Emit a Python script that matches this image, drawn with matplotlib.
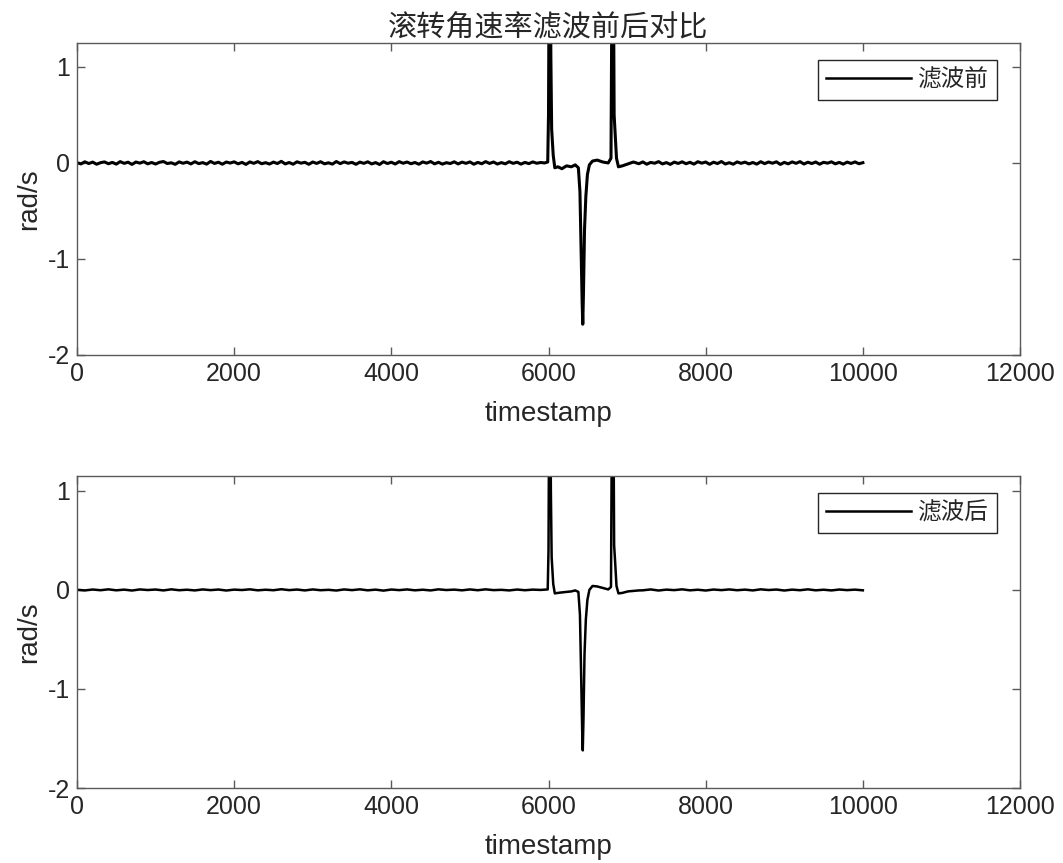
import numpy as np
import matplotlib
matplotlib.use('Agg')
import matplotlib.pyplot as plt

plt.rcParams['font.family'] = ['Liberation Sans', 'Noto Sans CJK SC']
plt.rcParams['axes.unicode_minus'] = False

# 原始数据：基线段（带噪声）
raw_t_pre = np.arange(0, 6000, 50)
raw_y_pre = [0.004, -0.010, 0.012, -0.006, 0.009, -0.013, 0.003, 0.011, -0.008, 0.006,
             -0.012, 0.014, -0.004, 0.008, -0.015, 0.010, -0.002, 0.013, -0.009, 0.005,
             -0.011, 0.007, 0.015, -0.006, 0.002, -0.014, 0.011, -0.003, 0.009, -0.010,
             0.013, -0.007, 0.004, -0.012, 0.016, -0.005, 0.008, -0.013, 0.010, -0.001,
             0.012, -0.009, 0.006, -0.015, 0.011, -0.004, 0.014, -0.008, 0.003, -0.011,
             0.009, -0.006, 0.017, -0.010, 0.005, -0.013, 0.012, -0.002, 0.007, -0.014,
             0.010, -0.005, 0.013, -0.009, 0.002, -0.012, 0.015, -0.007, 0.011, -0.003,
             0.006, -0.014, 0.009, -0.004, 0.012, -0.010, 0.004, -0.016, 0.013, -0.006,
             0.008, -0.011, 0.014, -0.003, 0.010, -0.008, 0.005, -0.013, 0.011, -0.002,
             0.015, -0.009, 0.007, -0.012, 0.003, -0.006, 0.012, -0.010, 0.009, -0.004,
             0.011, -0.013, 0.006, -0.008, 0.014, -0.005, 0.010, -0.011, 0.004, -0.009,
             0.013, -0.004, 0.008, -0.012, 0.006, -0.007, 0.011, -0.003, 0.005, 0.000]
raw_t_evt = [5990, 6000, 6010, 6020, 6030, 6040, 6060, 6080, 6120, 6170, 6230, 6290,
             6340, 6380, 6400, 6415, 6428, 6436, 6445, 6458, 6475, 6495, 6520, 6560,
             6620, 6690, 6760, 6795, 6805, 6815, 6825, 6835, 6848, 6865, 6890, 6940, 7010, 7080]
raw_y_evt = [0.01, 0.5, 2.4, 2.6, 1.1, 0.35, 0.08, -0.05, -0.04, -0.06, -0.03, -0.04,
             -0.02, -0.05, -0.3, -0.9, -1.45, -1.68, -1.35, -0.7, -0.35, -0.12, -0.02, 0.02,
             0.03, 0.01, 0.00, 0.05, 1.6, 2.6, 2.2, 0.5, 0.3, 0.05, -0.04, -0.03, -0.01, 0.01]
raw_t_post = np.arange(7150, 10001, 50)
raw_y_post = [-0.008, 0.011, -0.013, 0.006, -0.003, 0.014, -0.010, 0.004, -0.015, 0.009,
              -0.005, 0.012, -0.008, 0.007, -0.012, 0.013, -0.002, 0.010, -0.014, 0.008,
              -0.006, 0.015, -0.011, 0.003, -0.013, 0.011, -0.004, 0.009, -0.010, 0.005,
              -0.012, 0.013, -0.007, 0.010, -0.003, 0.012, -0.015, 0.006, -0.009, 0.011,
              -0.004, 0.014, -0.011, 0.008, -0.006, 0.010, -0.013, 0.007, -0.002, 0.012,
              -0.009, 0.006, -0.012, 0.009, -0.005, 0.011, -0.008, 0.003]

# 滤波后数据
flt_t_pre = np.arange(0, 6000, 100)
flt_y_pre = [0.002, -0.005, 0.004, -0.003, 0.006, -0.004, 0.003, -0.006, 0.005, -0.001,
             0.004, -0.005, 0.006, -0.003, 0.002, -0.005, 0.005, -0.002, 0.004, -0.006,
             0.003, -0.001, 0.006, -0.004, 0.002, -0.003, 0.007, -0.002, 0.004, -0.005,
             0.005, -0.003, 0.001, -0.006, 0.005, -0.002, 0.006, -0.004, 0.003, -0.007,
             0.004, -0.002, 0.005, -0.004, 0.002, -0.005, 0.006, -0.001, 0.003, -0.004,
             0.005, -0.003, 0.006, -0.002, 0.001, -0.005, 0.004, -0.003, 0.003, 0.000]
flt_t_evt = [5990, 6000, 6010, 6020, 6030, 6040, 6060, 6080, 6120, 6170, 6230, 6290,
             6340, 6380, 6400, 6415, 6428, 6436, 6445, 6458, 6475, 6495, 6520, 6560,
             6620, 6690, 6760, 6795, 6805, 6815, 6825, 6835, 6848, 6865, 6890, 6940, 7010, 7150]
flt_y_evt = [0.005, 0.4, 2.2, 2.4, 1.0, 0.33, 0.06, -0.035, -0.03, -0.025, -0.02, -0.015,
             -0.005, -0.02, -0.25, -0.85, -1.4, -1.62, -1.3, -0.65, -0.3, -0.1, 0.0, 0.04,
             0.035, 0.02, 0.005, 0.03, 1.5, 2.4, 2.0, 0.45, 0.28, 0.04, -0.035, -0.03, -0.015, -0.005]
flt_t_post = np.arange(7200, 10001, 100)
flt_y_post = [-0.004, 0.005, -0.006, 0.003, -0.002, 0.006, -0.004, 0.002, -0.006, 0.004,
              -0.002, 0.005, -0.003, 0.003, -0.005, 0.006, -0.001, 0.004, -0.006, 0.003,
              -0.003, 0.006, -0.004, 0.002, -0.005, 0.004, -0.002, 0.003, -0.004]

raw_t = np.concatenate([raw_t_pre, raw_t_evt, raw_t_post])
raw_y = np.concatenate([raw_y_pre, raw_y_evt, raw_y_post])
flt_t = np.concatenate([flt_t_pre, flt_t_evt, flt_t_post])
flt_y = np.concatenate([flt_y_pre, flt_y_evt, flt_y_post])

TICK_COLOR = '#262626'
SPINE_COLOR = '#5a5a5a'


def style_axes(ax, ylim):
    ax.set_xlim(0, 12000)
    ax.set_ylim(*ylim)
    ax.set_xticks(np.arange(0, 12001, 2000))
    ax.set_yticks([-2, -1, 0, 1])
    ax.tick_params(direction='in', top=True, right=True, length=6, width=1,
                   labelsize=18, colors=SPINE_COLOR, labelcolor=TICK_COLOR, pad=5)
    for s in ax.spines.values():
        s.set_color(SPINE_COLOR)
        s.set_linewidth(1)
    ax.set_xlabel('timestamp', fontsize=20, color=TICK_COLOR, labelpad=11)
    ax.set_ylabel('rad/s', fontsize=20, color=TICK_COLOR, labelpad=4)


fig = plt.figure(figsize=(10.63, 8.63), dpi=100)
ax1 = fig.add_axes([0.0724, 0.5887, 0.8872, 0.3615])
ax2 = fig.add_axes([0.0724, 0.0869, 0.8872, 0.3615])

ax1.plot(raw_t, raw_y, color='black', linewidth=2.2, label='滤波前')
style_axes(ax1, (-2, 1.25))
ax1.set_title('滚转角速率滤波前后对比', fontsize=21, color=TICK_COLOR, pad=5,
              family=['Noto Sans CJK SC', 'DejaVu Sans'])

ax2.plot(flt_t, flt_y, color='black', linewidth=1.8, label='滤波后')
style_axes(ax2, (-2, 1.15))

for ax in (ax1, ax2):
    leg = ax.legend(loc='upper right', bbox_to_anchor=(0.9756, 0.9455), borderaxespad=0,
                    fancybox=False, framealpha=1, edgecolor='#262626',
                    handlelength=3.6, handletextpad=0.3, borderpad=0.35,
                    prop={'family': ['Noto Sans CJK SC', 'DejaVu Sans'], 'size': 17})
    leg.get_frame().set_linewidth(1)
    for line in leg.get_lines():
        line.set_linewidth(1.8)
    for txt in leg.get_texts():
        txt.set_color(TICK_COLOR)

fig.savefig('out.png', dpi=100)
